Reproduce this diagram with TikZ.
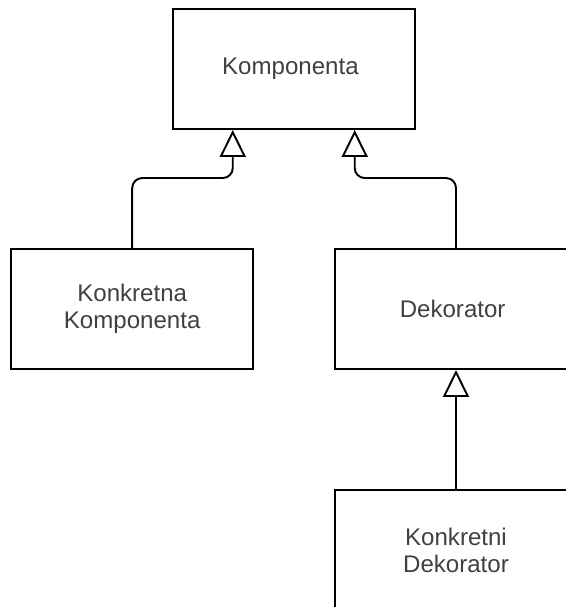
\documentclass[tikz,border=0pt]{standalone}
\usepackage{fontspec}
\setmainfont{Liberation Sans}
\usetikzlibrary{arrows.meta,calc}

\begin{document}
\begin{tikzpicture}[
    klasa/.style={draw,line width=1.1pt,minimum width=4.84cm,minimum height=2.4cm,inner sep=0pt,align=center,text=black!75,font=\fontsize{13.7}{15.4}\selectfont},
    nasljedje/.style={line width=1.1pt,rounded corners=0.2cm,-{Triangle[open,width=0.52cm,length=0.54cm]}}
]
    \clip (0, 0) rectangle (11.32, 12.14);

    \node[klasa] (A) at (5.875, 10.76) { Komponenta };
    \node[klasa] (B) at (2.644, 5.96) { Konkretna\\Komponenta };
    \node[klasa] (C) at (9.12, 5.96) { Dekorator };
    \node[klasa] (D) at (9.12, 1.14) { Konkretni\\Dekorator };

    \coordinate (A1) at ($(A.south west)!0.25!(A.south east)$);
    \coordinate (A2) at ($(A.south west)!0.75!(A.south east)$);

    \draw[nasljedje] (B.north) -- ++(0, 1.4) -| (A1);
    \draw[nasljedje] (C.north) -- ++(0, 1.4) -| (A2);
    \draw[nasljedje] (D.north) to (C.south);

\end{tikzpicture}
\end{document}
